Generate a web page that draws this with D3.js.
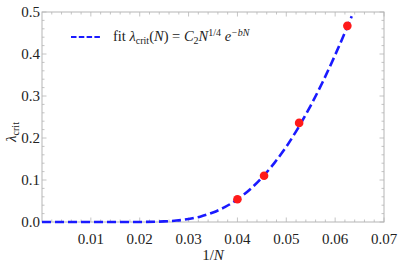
<!DOCTYPE html>
<html>
<head>
<meta charset="utf-8">
<script src="https://cdn.jsdelivr.net/npm/d3@7"></script>
<style>
body { margin: 0; background: #fff; }
svg text { font-family: "Liberation Serif", "Times New Roman", "DejaVu Serif", serif; fill: #222; }
</style>
</head>
<body>
<svg id="chart"></svg>
<script>
// data
var dataX = [0.04, 0.04545, 0.05263, 0.0625];
var dataY = [0.054, 0.110, 0.236, 0.467];

var fitX = [0, 0.005, 0.01, 0.015, 0.02, 0.025, 0.0275, 0.03, 0.0325, 0.035, 0.0375, 0.04,
            0.0425, 0.045, 0.0475, 0.05, 0.0525, 0.055, 0.0575, 0.06, 0.0625, 0.0634];
var fitY = [0, 0, 0, 0, 0.0001, 0.0014, 0.0034, 0.0071, 0.0132, 0.0226, 0.0359, 0.0538,
            0.0768, 0.1053, 0.1397, 0.1793, 0.2254, 0.2773, 0.3346, 0.3977, 0.4648, 0.490];

var xTicks = [0.01, 0.02, 0.03, 0.04, 0.05, 0.06, 0.07];
var yTicks = [0.0, 0.1, 0.2, 0.3, 0.4, 0.5];

var margin = {top: 12, right: 15, bottom: 46, left: 42},
    width = 399 - margin.left - margin.right,
    height = 268 - margin.top - margin.bottom;

var xScale = d3.scaleLinear().domain([0, 0.07]).range([0, width]);
var yScale = d3.scaleLinear().domain([0, 0.5]).range([height, 0]);

var svgtop = d3.select("#chart")
    .attr("width", 399)
    .attr("height", 268);

var svg = svgtop.append("g")
    .attr("transform", "translate(" + margin.left + "," + margin.top + ")");

var frameCol = "#b5b5b5";

//minor ticks
var xMinor = d3.range(1, 35).filter(function(i) {return i % 5 != 0;}).map(function(i) {return i * 0.002;});
var yMinor = d3.range(1, 25).filter(function(i) {return i % 5 != 0;}).map(function(i) {return i * 0.02;});

function tickLines(vals, len, horiz) {
    vals.forEach(function(v) {
        if (horiz) {
            var x = xScale(v);
            svg.append("line").attr("x1", x).attr("x2", x).attr("y1", height).attr("y2", height - len)
                .attr("stroke", frameCol).attr("stroke-width", 0.8);
            svg.append("line").attr("x1", x).attr("x2", x).attr("y1", 0).attr("y2", len)
                .attr("stroke", frameCol).attr("stroke-width", 0.8);
        } else {
            var y = yScale(v);
            svg.append("line").attr("x1", 0).attr("x2", len).attr("y1", y).attr("y2", y)
                .attr("stroke", frameCol).attr("stroke-width", 0.8);
            svg.append("line").attr("x1", width).attr("x2", width - len).attr("y1", y).attr("y2", y)
                .attr("stroke", frameCol).attr("stroke-width", 0.8);
        }
    });
}
tickLines(xTicks, 4.5, true);
tickLines(xMinor, 2.5, true);
tickLines(yTicks, 4.5, false);
tickLines(yMinor, 2.5, false);

//frame
svg.append("rect")
    .attr("width", width).attr("height", height)
    .attr("fill", "none").attr("stroke", frameCol).attr("stroke-width", 1);

//tick labels
svg.selectAll(".xlab").data(xTicks).enter().append("text")
    .attr("x", function(d) {return xScale(d);})
    .attr("y", height + 22)
    .attr("text-anchor", "middle")
    .style("font-size", "15px")
    .text(function(d) {return d3.format(".2f")(d);});

svg.selectAll(".ylab").data(yTicks).enter().append("text")
    .attr("x", -2)
    .attr("y", function(d) {return yScale(d) + 5;})
    .attr("text-anchor", "end")
    .style("font-size", "15px")
    .text(function(d) {return d3.format(".1f")(d);});

//axis labels
var xl = svg.append("text")
    .attr("x", width / 2)
    .attr("y", height + 38)
    .attr("text-anchor", "middle")
    .style("font-size", "15px");
xl.append("tspan").text("1/");
xl.append("tspan").style("font-style", "italic").text("N");

var yl = svgtop.append("text")
    .attr("transform", "translate(16,132) rotate(-90)")
    .attr("text-anchor", "middle")
    .style("font-size", "15px");
yl.append("tspan").style("font-style", "italic").text("λ");
yl.append("tspan").attr("dy", 3).style("font-size", "10px").text("crit");

//fit curve
var fitLine = d3.line()
    .x(function(d) {return xScale(d[0]);})
    .y(function(d) {return yScale(d[1]);})
    .curve(d3.curveMonotoneX);

svg.append("path")
    .datum(fitX.map(function(x, i) {return [x, fitY[i]];}))
    .attr("fill", "none")
    .attr("stroke", "#1a1aff")
    .attr("stroke-width", 2.6)
    .attr("stroke-dasharray", "9,4")
    .attr("d", fitLine);

//data points
svg.selectAll(".pt").data(dataX).enter().append("circle")
    .attr("cx", function(d) {return xScale(d);})
    .attr("cy", function(d, i) {return yScale(dataY[i]);})
    .attr("r", 4.3)
    .attr("fill", "#ff1a1a");

//legend
svgtop.append("line")
    .attr("x1", 71).attr("x2", 100).attr("y1", 37).attr("y2", 37)
    .attr("stroke", "#1a1aff").attr("stroke-width", 2.2)
    .attr("stroke-dasharray", "5.5,2.3");

var lg = svgtop.append("text")
    .attr("x", 113).attr("y", 41)
    .style("font-size", "14.5px");
lg.append("tspan").text("fit ");
lg.append("tspan").style("font-style", "italic").text("λ");
lg.append("tspan").attr("dy", 2.5).style("font-size", "10px").text("crit");
lg.append("tspan").attr("dy", -2.5).text("(");
lg.append("tspan").style("font-style", "italic").text("N");
lg.append("tspan").text(") = ");
lg.append("tspan").style("font-style", "italic").text("C");
lg.append("tspan").attr("dy", 2.5).style("font-size", "10px").text("2");
lg.append("tspan").attr("dy", -2.5).style("font-style", "italic").text("N");
lg.append("tspan").attr("dy", -5).style("font-size", "10px").text("1/4");
lg.append("tspan").attr("dy", 5).style("font-style", "italic").text(" e");
lg.append("tspan").attr("dy", -5).style("font-size", "10px").style("font-style", "italic").text("−bN");
</script>
</body>
</html>
